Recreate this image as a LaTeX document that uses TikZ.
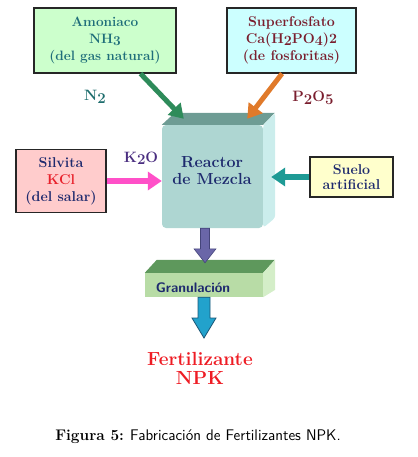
\documentclass[tikz,border=0pt]{standalone}
\usepackage{fontspec}
\usepackage{xcolor}
\usepackage{tikz}
\usetikzlibrary{arrows.meta,calc}
\definecolor{amonfill}{HTML}{CCFFCC}
\definecolor{amontxt}{HTML}{1F6E7A}
\definecolor{supfill}{HTML}{CCFFFF}
\definecolor{suptxt}{HTML}{7A1E2E}
\definecolor{silvfill}{HTML}{FFCCCC}
\definecolor{navytxt}{HTML}{1E2A6E}
\definecolor{kclred}{HTML}{E8202A}
\definecolor{suelofill}{HTML}{FFFFCC}
\definecolor{ntxt}{HTML}{1F6E6E}
\definecolor{ktxt}{HTML}{4A2E80}
\definecolor{greenarr}{HTML}{2E8B5A}
\definecolor{orangearr}{HTML}{E07A2A}
\definecolor{pinkarr}{HTML}{FF50C8}
\definecolor{tealarr}{HTML}{1E9A95}
\definecolor{reacfront}{HTML}{AED6D2}
\definecolor{reactop}{HTML}{6E9C94}
\definecolor{reacside}{HTML}{CBEDEC}
\definecolor{granfront}{HTML}{B8DCA6}
\definecolor{grantop}{HTML}{5E985C}
\definecolor{granside}{HTML}{D4EEC8}
\definecolor{purplefill}{HTML}{6A66A8}
\definecolor{purpleedge}{HTML}{45457A}
\definecolor{cyanfill}{HTML}{22A2CC}
\definecolor{cyanedge}{HTML}{1C5878}
\definecolor{fertred}{HTML}{EE1C24}
\newcommand{\lowr}[1]{\raisebox{-0.35ex}{#1}}
\tikzset{
  src/.style={rectangle, draw=black!85, line width=1.2pt, align=center,
    font=\fontsize{14.2}{17}\selectfont\bfseries, inner sep=2pt},
  lbl/.style={font=\fontsize{15}{16}\selectfont\bfseries},
  feed/.style={line width=5pt, -{Triangle[width=17pt,length=14pt]}},
  thickfeed/.style={line width=6.5pt, -{Triangle[width=18pt,length=14pt]}},
}

\begin{document}
\begin{tikzpicture}[x=1pt,y=-1pt]
  \useasboundingbox (0,0) rectangle (417,457);
  % raw materials
  \node[src, fill=amonfill, text=amontxt, minimum width=142pt, minimum height=65pt,
    font=\fontsize{13.6}{17}\selectfont\bfseries] (amon) at (105,40.5)
    {Amoniaco\\NH\lowr{3}\\(del gas natural)};
  \node[src, fill=supfill, text=suptxt, minimum width=129pt, minimum height=65pt] (superf) at (291.5,40.5)
    {Superfosfato\\Ca(H\lowr{2}PO\lowr{4})2\\(de fosforitas)};
  \node[src, fill=silvfill, text=navytxt, minimum width=90pt, minimum height=63pt] (silv) at (61,181)
    {Silvita\\\textcolor{kclred}{KCl}\\(del salar)};
  \node[src, fill=suelofill, text=navytxt, minimum width=83pt, minimum height=40pt,
    font=\fontsize{14.2}{15}\selectfont\bfseries] (suelo) at (351.5,177)
    {Suelo\\artificial};
  \node[lbl, text=ntxt] (n2) at (95,97) {N\lowr{2}};
  \node[lbl, text=suptxt] (p2o5) at (313,98) {P\lowr{2}O\lowr{5}};
  \node[lbl, text=ktxt] (k2o) at (141,158) {K\lowr{2}O};
  % reactor
  \node[rectangle, rounded corners=4pt, fill=reacfront, minimum width=101pt, minimum height=103pt] (reactor) at (212.5,176.5) {};
  \fill[reactop] (reactor.north west) -- ++(13,-12) -- ++(100,0) -- (reactor.north east) -- cycle;
  \fill[reacside, rounded corners=3pt] (reactor.north east) -- ++(12,-12) -- ++(0,105) -- ++(-12,10) -- cycle;
  \node[font=\fontsize{16}{17}\selectfont\bfseries, text=navytxt, align=center] (rtxt) at (212,171) {Reactor\\de Mezcla};
  % granulation
  \node[rectangle, fill=granfront, minimum width=118pt, minimum height=24pt] (granul) at (204,285) {};
  \fill[grantop] (granul.north west) -- ++(12,-13) -- ++(118,0) -- (granul.north east) -- cycle;
  \fill[granside] (granul.north east) -- ++(12,-13) -- ++(0,30) -- (granul.south east) -- cycle;
  \node[font=\fontsize{13.8}{15}\selectfont\sffamily\bfseries, text=navytxt] (gtxt) at (193,288) {Granulación};
  \node[font=\fontsize{19}{19}\selectfont\bfseries, text=fertred, align=center] (fert) at (200,368) {Fertilizante\\NPK};
  % feeds
  \coordinate (inN) at ($(reactor.north west)+(22,-6)$);
  \coordinate (inP) at ($(reactor.north east)+(-16,-6)$);
  \draw[feed, greenarr] (amon.-43) -- (inN);
  \draw[feed, orangearr] (superf.-106) -- (inP);
  \draw[thickfeed, pinkarr] (silv.east) -- (silv.east -| reactor.west);
  \draw[thickfeed, tealarr] (suelo.west) -- ($(suelo.west -| reactor.east)+(8,0)$);
  % block arrows
  \coordinate (granin) at ($(granul.north)+(1,-10)$);
  \coordinate (npkin) at (204,338);
  \draw[purpleedge, fill=purplefill, line width=0.6pt]
    ($(reactor.south -| granin)+(-4.5,0)$) -- ($(granin)+(-4.5,-14)$) -- ($(granin)+(-11,-14)$) -- (granin)
    -- ($(granin)+(11,-14)$) -- ($(granin)+(4.5,-14)$) -- ($(reactor.south -| granin)+(4.5,0)$) -- cycle;
  \draw[cyanedge, fill=cyanfill, line width=0.8pt]
    ($(granul.south)+(-6,0)$) -- ($(npkin)+(-6,-20)$) -- ($(npkin)+(-12,-20)$) -- (npkin)
    -- ($(npkin)+(12,-20)$) -- ($(npkin)+(6,-20)$) -- ($(granul.south)+(6,0)$) -- cycle;
  % caption
  \node[font=\fontsize{15.4}{17}\selectfont] (cap) at (198,437) {\textbf{Figura 5:} \textsf{Fabricación de Fertilizantes NPK.}};
\end{tikzpicture}
\end{document}
